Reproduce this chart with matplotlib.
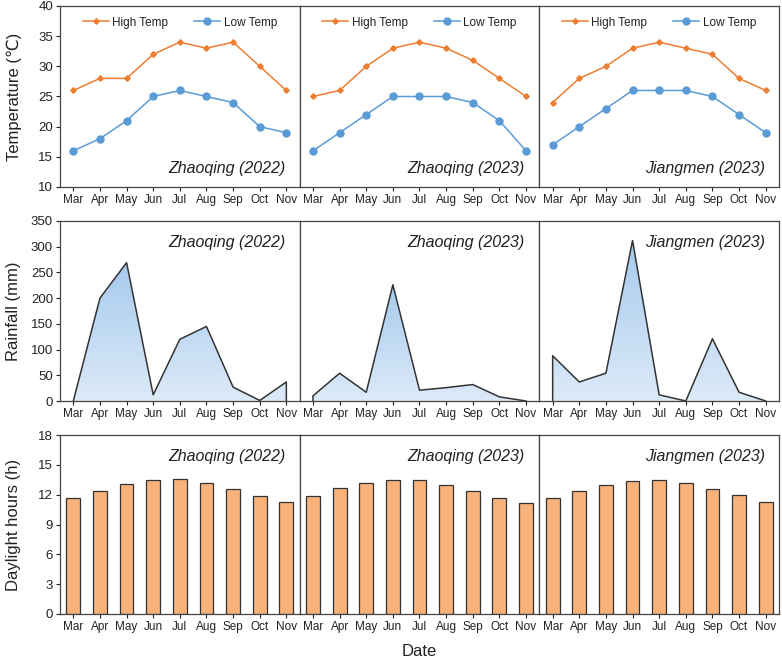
import numpy as np
import matplotlib
matplotlib.use('Agg')
import matplotlib.pyplot as plt
from matplotlib.colors import LinearSegmentedColormap
from matplotlib.patches import Polygon

plt.rcParams['font.family'] = ['Liberation Sans', 'DejaVu Sans']
plt.rcParams['text.color'] = '#222222'
plt.rcParams['axes.labelcolor'] = '#222222'
plt.rcParams['xtick.color'] = '#222222'
plt.rcParams['ytick.color'] = '#222222'

months = ['Mar', 'Apr', 'May', 'Jun', 'Jul', 'Aug', 'Sep', 'Oct', 'Nov']
sites = ['Zhaoqing (2022)', 'Zhaoqing (2023)', 'Jiangmen (2023)']

# temperature (°C)
high_temp = [
    [26, 28, 28, 32, 34, 33, 34, 30, 26],
    [25, 26, 30, 33, 34, 33, 31, 28, 25],
    [24, 28, 30, 33, 34, 33, 32, 28, 26],
]
low_temp = [
    [16, 18, 21, 25, 26, 25, 24, 20, 19],
    [16, 19, 22, 25, 25, 25, 24, 21, 16],
    [17, 20, 23, 26, 26, 26, 25, 22, 19],
]

# rainfall (mm)
rainfall = [
    [0, 200, 269, 12, 120, 145, 27, 1, 37],
    [10, 54, 17, 226, 21, 26, 32, 8, 0],
    [88, 37, 54, 312, 12, 0, 121, 17, 0],
]

# daylight hours (h)
daylight = [
    [11.7, 12.4, 13.1, 13.5, 13.6, 13.2, 12.6, 11.9, 11.3],
    [11.9, 12.7, 13.2, 13.5, 13.5, 13.0, 12.4, 11.7, 11.2],
    [11.7, 12.4, 13.0, 13.4, 13.5, 13.2, 12.6, 12.0, 11.3],
]

fig = plt.figure(figsize=(7.82, 6.64), dpi=100)

W, H = 782, 664
left, right = 60, 779
pw = (right - left) / 3
rows = [(6, 187), (221, 401), (435, 614)]

orange = '#ED7D31'
blue = '#5B9BD5'
bar_col = '#F8B27C'
edge = '#333333'
grad = LinearSegmentedColormap.from_list('g', ['#DCEAF8', '#A6CAEE'])

x = np.arange(len(months))


def make_ax(r, c):
    top, bot = rows[r]
    ax = fig.add_axes([(left + c * pw) / W, 1 - bot / H, pw / W, (bot - top) / H])
    for s in ax.spines.values():
        s.set_color('#444444')
        s.set_linewidth(0.9)
    ax.set_xlim(-0.5, 8.5)
    ax.set_xticks(x)
    ax.set_xticklabels(months, fontsize=8.5)
    ax.tick_params(axis='x', direction='out', length=3, pad=2)
    ax.tick_params(axis='y', direction='out', length=3, labelsize=9.5, pad=2)
    if c > 0:
        ax.tick_params(axis='y', left=False, labelleft=False)
    return ax


for c in range(3):
    # temperature
    ax = make_ax(0, c)
    ax.plot(x, high_temp[c], color=orange, lw=1.1, marker='D', ms=2.8, label='High Temp')
    ax.plot(x, low_temp[c], color=blue, lw=1.1, marker='o', ms=5, label='Low Temp')
    ax.set_ylim(10, 40)
    ax.set_yticks(range(10, 41, 5))
    ax.legend(loc='upper center', ncol=2, frameon=False, fontsize=8.5,
              bbox_to_anchor=(0.5, 1.0), handlelength=2.2, columnspacing=2.2,
              handletextpad=0.3)
    ax.text(0.94, 0.1, sites[c], transform=ax.transAxes, ha='right', va='center',
            fontsize=11.5, style='italic')

    # rainfall
    ax = make_ax(1, c)
    ax.set_ylim(0, 350)
    ax.set_yticks(range(0, 351, 50))
    rain = rainfall[c]
    verts = [(x[0], 0)] + list(zip(x, rain)) + [(x[-1], 0)]
    poly = Polygon(verts, closed=True, facecolor='none', edgecolor='none')
    ax.add_patch(poly)
    img = ax.imshow(np.linspace(0, 1, 256).reshape(-1, 1), cmap=grad, aspect='auto',
                    origin='lower', extent=(x[0], x[-1], 0, max(rain)), zorder=1)
    img.set_clip_path(poly)
    ax.plot([x[0]] + list(x) + [x[-1]], [0] + rain + [0], color=edge, lw=1.1, zorder=2)
    ax.set_xlim(-0.5, 8.5)
    ax.set_ylim(0, 350)
    ax.text(0.94, 0.88, sites[c], transform=ax.transAxes, ha='right', va='center',
            fontsize=11.5, style='italic')

    # daylight
    ax = make_ax(2, c)
    ax.bar(x, daylight[c], width=0.52, color=bar_col, edgecolor=edge, linewidth=0.9)
    ax.set_ylim(0, 18)
    ax.set_yticks(range(0, 19, 3))
    ax.text(0.94, 0.88, sites[c], transform=ax.transAxes, ha='right', va='center',
            fontsize=11.5, style='italic')

fig.text(14 / W, 1 - 97 / H, 'Temperature (\u2103)', rotation=90, ha='center', va='center', fontsize=12)
fig.text(14 / W, 1 - 311 / H, 'Rainfall (mm)', rotation=90, ha='center', va='center', fontsize=12)
fig.text(14 / W, 1 - 525 / H, 'Daylight hours (h)', rotation=90, ha='center', va='center', fontsize=12)
fig.text((left + right) / 2 / W, 1 - 651 / H, 'Date', ha='center', va='center', fontsize=12)

fig.savefig('out.png', dpi=100)
